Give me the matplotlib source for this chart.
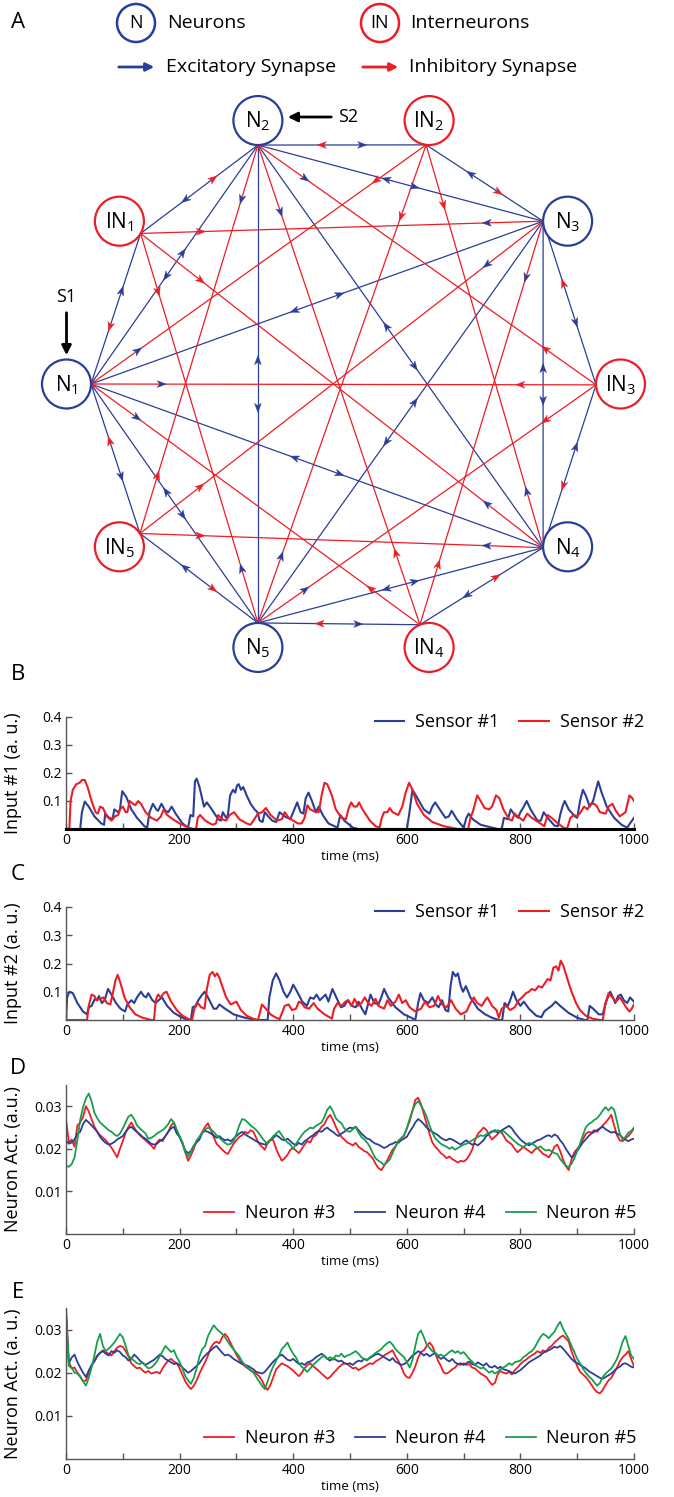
import numpy as np
import matplotlib
matplotlib.use('Agg')
import matplotlib.pyplot as plt
from matplotlib.patches import Circle, Polygon

plt.rcParams['font.family'] = ['Open Sans', 'DejaVu Sans']
plt.rcParams['mathtext.fontset'] = 'custom'
plt.rcParams['mathtext.rm'] = 'Open Sans'
plt.rcParams['mathtext.it'] = 'Open Sans:italic'
plt.rcParams['mathtext.bf'] = 'Open Sans:bold'

BLUE = '#2B3E97'
RED = '#EE1D25'
GREEN = '#16A04B'

# ---------------- data ----------------
node_labels = ['N1', 'IN1', 'N2', 'IN2', 'N3', 'IN3', 'N4', 'IN4', 'N5', 'IN5']

# panel B : Input #1, (time ms, value) vertices
b_sensor1 = [(0,0),(25,0),(28,0.06),(33,0.098),(40,0.08),(50,0.045),(62,0.02),(67,0.015),(69,0.055),(76,0.04),(82,0.035),(85,0.07),(92,0.06),(95,0.07),(99,0.135),(106,0.115),(115,0.07),(125,0.04),(138,0.01),(143,0.005),(147,0.06),(153,0.09),(159,0.07),(162,0.065),(168,0.09),(175,0.065),(180,0.06),(186,0.08),(193,0.055),(205,0.02),(215,0.005),(219,0.05),(224,0.045),(227,0.17),(230,0.18),(235,0.15),(243,0.08),(248,0.095),(255,0.075),(268,0.035),(273,0.03),(276,0.06),(282,0.04),(285,0.05),(289,0.12),(294,0.14),(298,0.13),(301,0.155),(304,0.16),(308,0.14),(312,0.15),(318,0.12),(325,0.09),(332,0.07),(337,0.06),(341,0.03),(346,0.025),(350,0.06),(356,0.045),(363,0.03),(370,0.025),(376,0.06),(385,0.045),(395,0.035),(402,0.07),(407,0.095),(413,0.06),(418,0.055),(422,0.11),(427,0.13),(433,0.1),(440,0.06),(445,0.08),(452,0.05),(462,0.02),(478,0.005),(483,0.05),(490,0.03),(505,0.005),(515,0.0),(600,0.0),(604,0.05),(610,0.14),(616,0.12),(630,0.07),(640,0.055),(645,0.08),(650,0.095),(658,0.07),(668,0.04),(674,0.045),(679,0.065),(688,0.035),(700,0.005),(705,0.04),(709,0.055),(716,0.035),(730,0.015),(760,0.0),(767,0.0),(771,0.04),(778,0.035),(783,0.07),(790,0.05),(796,0.04),(800,0.06),(806,0.08),(811,0.1),(818,0.07),(830,0.03),(836,0.03),(841,0.06),(848,0.04),(860,0.012),(866,0.01),(870,0.05),(874,0.08),(878,0.1),(885,0.07),(896,0.045),(900,0.04),(905,0.1),(910,0.14),(915,0.12),(922,0.08),(928,0.1),(933,0.14),(937,0.17),(943,0.13),(952,0.08),(965,0.04),(978,0.015),(988,0.005),(993,0.02),(1000,0.04)]
b_sensor2 = [(0,0),(6,0),(8,0.1),(12,0.14),(18,0.16),(24,0.165),(28,0.175),(33,0.175),(38,0.15),(45,0.1),(52,0.06),(56,0.055),(60,0.08),(65,0.075),(72,0.045),(80,0.03),(86,0.045),(92,0.05),(95,0.07),(100,0.08),(105,0.06),(108,0.06),(112,0.1),(118,0.09),(122,0.085),(127,0.1),(132,0.09),(140,0.06),(150,0.04),(160,0.03),(167,0.045),(172,0.07),(178,0.05),(188,0.035),(200,0.02),(215,0.005),(225,0.0),(229,0.0),(232,0.04),(236,0.05),(245,0.03),(258,0.015),(264,0.02),(268,0.05),(275,0.035),(282,0.03),(288,0.05),(296,0.06),(305,0.035),(318,0.02),(325,0.015),(333,0.04),(338,0.055),(345,0.06),(352,0.075),(360,0.05),(372,0.03),(380,0.035),(385,0.06),(392,0.04),(400,0.03),(408,0.02),(415,0.02),(420,0.04),(425,0.085),(430,0.07),(440,0.06),(445,0.06),(450,0.12),(455,0.165),(460,0.16),(468,0.12),(475,0.07),(485,0.04),(493,0.035),(497,0.07),(502,0.095),(507,0.08),(512,0.08),(516,0.095),(522,0.07),(535,0.03),(545,0.01),(552,0.005),(556,0.04),(560,0.06),(566,0.06),(570,0.075),(575,0.06),(585,0.05),(592,0.08),(598,0.13),(604,0.165),(610,0.14),(618,0.09),(630,0.05),(645,0.025),(665,0.01),(690,0.0),(708,0.0),(712,0.04),(716,0.06),(720,0.09),(724,0.12),(730,0.1),(737,0.075),(745,0.07),(750,0.08),(757,0.12),(763,0.11),(770,0.07),(780,0.035),(785,0.03),(790,0.055),(795,0.045),(805,0.03),(812,0.055),(820,0.04),(835,0.02),(842,0.01),(848,0.05),(855,0.04),(866,0.02),(876,0.005),(882,0.0),(888,0.04),(894,0.05),(900,0.045),(906,0.06),(912,0.08),(918,0.07),(924,0.09),(930,0.09),(935,0.08),(940,0.06),(950,0.055),(955,0.08),(962,0.09),(968,0.065),(975,0.045),(985,0.06),(992,0.12),(997,0.11),(1000,0.1)]

# panel C : Input #2
c_sensor1 = [(0,0),(2,0.08),(6,0.1),(12,0.095),(20,0.06),(30,0.03),(37,0.02),(40,0.045),(45,0.05),(51,0.075),(55,0.07),(58,0.085),(63,0.06),(68,0.07),(74,0.11),(80,0.09),(88,0.06),(96,0.04),(104,0.03),(108,0.055),(115,0.07),(120,0.06),(125,0.08),(132,0.1),(137,0.085),(141,0.08),(145,0.095),(152,0.07),(158,0.06),(163,0.07),(169,0.08),(178,0.05),(190,0.025),(205,0.008),(215,0.0),(220,0.0),(223,0.045),(228,0.05),(233,0.07),(238,0.085),(244,0.1),(250,0.08),(260,0.04),(265,0.04),(270,0.055),(280,0.04),(295,0.02),(315,0.008),(335,0.0),(355,0.0),(358,0.08),(364,0.14),(370,0.165),(376,0.14),(383,0.1),(389,0.08),(395,0.1),(400,0.125),(407,0.1),(416,0.065),(424,0.05),(430,0.08),(436,0.075),(441,0.09),(447,0.07),(452,0.08),(457,0.09),(462,0.065),(469,0.11),(476,0.08),(484,0.045),(490,0.05),(496,0.07),(503,0.05),(510,0.045),(515,0.065),(521,0.04),(527,0.02),(531,0.05),(536,0.09),(543,0.06),(550,0.055),(555,0.08),(560,0.11),(567,0.08),(580,0.045),(595,0.02),(608,0.008),(615,0.0),(620,0.06),(624,0.095),(630,0.07),(638,0.06),(645,0.08),(651,0.055),(656,0.045),(662,0.07),(668,0.035),(673,0.03),(677,0.12),(681,0.17),(686,0.155),(690,0.165),(695,0.12),(699,0.1),(704,0.12),(712,0.08),(725,0.04),(738,0.02),(750,0.008),(762,0.0),(768,0.0),(772,0.06),(778,0.05),(782,0.07),(787,0.1),(793,0.07),(800,0.05),(806,0.065),(815,0.04),(828,0.015),(837,0.01),(842,0.03),(848,0.04),(855,0.05),(862,0.065),(870,0.05),(885,0.025),(900,0.008),(913,0.0),(918,0.0),(922,0.05),(928,0.04),(938,0.02),(945,0.02),(950,0.06),(958,0.1),(963,0.08),(967,0.06),(972,0.085),(977,0.09),(982,0.07),(988,0.06),(993,0.08),(1000,0.065)]
c_sensor2 = [(0,0),(37,0),(40,0.05),(45,0.09),(50,0.085),(54,0.07),(60,0.075),(66,0.08),(72,0.06),(78,0.055),(83,0.1),(87,0.14),(91,0.16),(96,0.13),(103,0.08),(112,0.045),(122,0.02),(135,0.008),(150,0.0),(155,0.0),(158,0.07),(162,0.09),(167,0.08),(172,0.095),(177,0.1),(185,0.065),(195,0.035),(205,0.015),(215,0.004),(222,0.0),(226,0.04),(232,0.06),(238,0.045),(244,0.04),(248,0.11),(253,0.16),(258,0.17),(262,0.155),(266,0.165),(270,0.15),(275,0.12),(282,0.08),(290,0.055),(295,0.06),(300,0.065),(308,0.035),(318,0.015),(330,0.004),(338,0.0),(345,0.055),(352,0.04),(360,0.02),(368,0.01),(376,0.003),(385,0.05),(392,0.055),(398,0.035),(405,0.04),(410,0.065),(415,0.06),(420,0.045),(428,0.04),(436,0.06),(443,0.04),(455,0.02),(468,0.005),(472,0.04),(478,0.06),(485,0.05),(492,0.065),(497,0.07),(503,0.05),(508,0.075),(514,0.05),(520,0.06),(526,0.08),(532,0.06),(538,0.05),(545,0.075),(550,0.05),(560,0.04),(566,0.07),(572,0.05),(580,0.065),(586,0.09),(592,0.06),(598,0.07),(605,0.045),(615,0.03),(625,0.04),(632,0.065),(640,0.045),(648,0.05),(655,0.085),(662,0.055),(670,0.045),(678,0.07),(686,0.04),(695,0.02),(705,0.03),(712,0.06),(718,0.08),(724,0.06),(732,0.05),(738,0.07),(742,0.08),(750,0.05),(758,0.035),(762,0.008),(767,0.04),(775,0.05),(782,0.035),(790,0.045),(797,0.07),(803,0.08),(810,0.095),(815,0.1),(820,0.11),(826,0.105),(832,0.12),(838,0.115),(843,0.13),(848,0.145),(853,0.14),(858,0.185),(863,0.19),(867,0.175),(871,0.21),(876,0.19),(882,0.15),(890,0.1),(898,0.06),(905,0.035),(915,0.015),(928,0.004),(940,0.0),(945,0.0),(950,0.06),(955,0.095),(962,0.08),(968,0.065),(975,0.08),(980,0.065),(986,0.045),(992,0.03),(996,0.04),(1000,0.055)]

# panels D and E : neuron activity sampled every 5 ms (0..1000), units of 1e-4 a.u.
t_neuron = np.arange(0, 1001, 5)
d_neuron3 = [270,215,222,205,255,262,275,300,288,270,252,240,232,226,220,212,203,192,180,200,
             218,238,252,262,250,240,232,226,220,214,208,200,215,222,218,230,240,255,262,240,
             228,212,192,172,185,200,218,228,240,252,260,245,228,212,205,198,192,188,200,212,
             220,228,232,240,236,244,240,225,212,205,198,215,222,220,200,185,172,178,186,198,
             202,196,190,200,210,218,215,228,232,242,252,258,272,280,268,252,238,228,222,215,
             212,208,214,205,200,195,192,185,178,165,155,150,160,172,185,198,205,218,225,230,
             248,265,290,315,320,305,282,258,235,215,205,198,190,185,178,182,176,172,168,172,
             170,175,185,198,220,235,242,250,245,232,222,228,235,242,232,220,215,210,200,192,
             198,205,200,195,190,198,202,195,188,185,180,190,205,210,195,175,160,150,175,192,
             200,208,222,235,240,238,244,240,248,255,262,270,280,255,232,220,218,225,230,238,
             248]
d_neuron4 = [220,212,215,222,235,240,258,268,262,255,248,240,228,220,214,210,212,216,222,226,
             230,240,248,252,245,240,234,228,224,218,212,210,212,218,222,230,240,248,252,236,
             228,214,196,190,195,208,215,222,238,242,240,236,232,226,230,224,220,222,218,224,
             230,236,240,234,230,226,222,218,214,212,210,214,220,226,232,228,222,220,224,218,
             212,208,214,210,218,222,228,232,238,242,240,246,250,244,240,234,230,236,240,246,
             250,248,252,244,236,230,224,222,216,212,210,206,202,205,210,212,216,214,220,224,
             228,240,250,262,270,265,258,250,244,240,236,232,226,222,220,224,222,218,214,210,
             216,220,214,210,212,208,214,220,230,236,240,244,238,242,246,250,254,248,238,230,
             222,216,212,208,212,216,220,222,226,230,232,228,234,230,220,212,200,190,180,185,
             195,205,215,222,230,236,240,244,248,252,246,242,238,240,236,232,226,222,218,222,
             224]
d_neuron5 = [160,158,164,180,220,268,298,318,330,312,285,272,262,256,250,244,240,234,230,236,
             248,262,276,280,270,255,248,242,236,224,226,230,236,240,244,250,258,270,262,245,
             230,215,192,182,195,205,220,228,238,245,250,246,240,232,226,220,214,210,212,218,
             235,255,270,268,262,255,250,244,236,226,218,212,222,230,236,242,232,222,215,210,
             200,212,222,232,240,245,250,248,254,258,262,275,292,300,288,272,265,260,248,242,
             240,246,252,238,228,222,215,205,190,178,172,168,162,168,175,190,205,218,225,232,
             248,270,290,305,312,302,290,275,255,238,225,218,212,208,205,200,204,198,202,206,
             210,212,216,220,224,228,232,230,234,238,242,240,244,238,242,236,230,224,218,212,
             208,204,210,214,212,208,202,206,200,196,198,194,190,188,176,168,160,158,165,178,
             195,212,232,250,258,262,268,272,280,290,298,290,298,292,265,235,222,228,238,242,
             250]
e_neuron3 = [350,225,210,212,200,192,180,182,198,215,228,240,246,252,248,244,240,250,258,262,
             260,250,238,222,215,210,212,205,200,204,198,200,202,198,210,220,228,232,226,222,
             210,195,180,170,162,170,182,198,212,225,240,258,268,272,268,282,290,282,268,255,
             242,230,222,215,210,205,202,198,192,182,168,160,172,190,208,215,222,218,215,210,
             205,198,192,200,210,218,222,215,210,204,198,192,186,190,198,205,212,218,222,220,
             215,210,212,206,210,214,218,222,220,226,230,234,240,244,248,252,238,228,215,198,
             190,188,200,215,235,248,252,262,270,262,245,228,215,200,198,202,208,212,220,218,
             222,218,220,212,210,204,198,194,190,180,172,176,196,204,200,198,202,196,206,212,
             220,226,230,236,240,244,250,246,252,248,258,262,270,276,282,286,280,272,250,232,
             215,202,196,190,182,172,162,155,152,160,172,182,188,200,212,226,236,242,250,232,
             215]
e_neuron4 = [330,222,235,242,225,212,200,190,205,218,226,238,246,250,244,240,250,246,252,248,
             240,236,228,232,242,236,228,222,218,222,226,230,236,242,238,232,228,224,220,222,
             218,212,206,200,204,210,216,222,232,240,246,252,258,262,254,246,240,242,238,232,
             228,224,220,218,216,212,208,202,200,198,202,210,218,226,232,238,242,236,230,228,
             232,226,220,222,218,224,226,230,236,240,244,238,232,228,234,230,226,228,222,220,
             222,218,224,228,226,232,230,234,238,242,244,240,236,232,228,234,226,222,218,220,
             224,232,240,244,250,246,240,244,238,242,246,238,232,236,230,226,232,224,220,222,
             218,222,226,220,218,224,220,216,222,214,212,216,210,214,208,206,204,200,198,202,
             206,212,218,224,228,232,236,240,246,250,252,256,260,258,262,256,248,240,232,226,
             222,218,214,210,204,200,196,192,188,186,190,194,198,204,210,214,220,222,218,214,
             212]
e_neuron5 = [350,215,212,200,198,190,180,170,188,212,240,272,290,262,250,256,262,270,280,290,
             282,262,240,232,228,222,220,224,216,210,212,218,226,238,250,262,255,248,252,236,
             225,210,192,182,174,188,210,238,255,262,285,298,310,302,296,290,282,272,262,254,
             246,238,226,218,212,206,200,190,180,170,162,180,200,215,228,240,255,262,270,255,
             244,235,222,214,208,202,210,218,224,230,236,240,232,236,230,240,238,244,236,240,
             242,246,250,244,236,232,228,236,240,246,250,255,262,268,272,265,255,248,242,236,
             225,212,230,262,290,298,282,265,258,250,246,240,242,238,242,248,252,246,250,244,
             248,240,232,226,218,214,210,212,206,200,204,198,202,208,212,216,222,218,224,226,
             228,236,240,246,250,258,270,282,290,286,280,288,295,308,318,302,290,278,262,248,
             232,222,210,200,192,186,178,170,176,190,198,204,210,220,232,250,272,285,262,240,
             232]

x_ticks = list(range(0, 1001, 100))

# ---------------- figure ----------------
W, H = 674, 1497
fig = plt.figure(figsize=(W / 100, H / 100), dpi=100)

# network panel drawn in pixel units
ax0 = fig.add_axes([0, 1 - 700 / H, 1, 700 / H])
ax0.set_xlim(0, W)
ax0.set_ylim(700, 0)
ax0.axis('off')

cx, cy, R, rn = 343.5, 384, 277, 24.5
ang = np.radians(180 - 36 * np.arange(10))
xs = cx + R * np.cos(ang)
ys = cy - R * np.sin(ang)
att_deg = [0, 30, 90, 97, 180, 178, 178, 248, 270, -33]
att = [np.array([xs[i] + rn * np.cos(np.radians(a)), ys[i] + rn * np.sin(np.radians(a))])
       for i, a in enumerate(att_deg)]


def head(p, q, frac, color, L=9.0, w=3.4, notch=2.4):
    d = q - p
    u = d / np.hypot(*d)
    n = np.array([-u[1], u[0]])
    c = p + frac * d
    back = c - u * L / 2
    pts = [c + u * L / 2, back + n * w, c - u * (L / 2 - notch), back - n * w]
    ax0.add_patch(Polygon(pts, closed=True, fc=color, ec=color, lw=0.3, zorder=4))


def seg(p, q, color):
    ax0.plot([p[0], q[0]], [p[1], q[1]], color=color, lw=0.9, zorder=2,
             solid_capstyle='butt')


neu = [0, 2, 4, 6, 8]
inn = [1, 3, 5, 7, 9]
# neuron <-> neuron
for a in range(5):
    for b in range(a + 1, 5):
        p, q = att[neu[a]], att[neu[b]]
        seg(p, q, BLUE)
        head(p, q, 0.55, BLUE)
        head(q, p, 0.55, BLUE)
# neuron <-> interneuron
for i in inn:
    for j in neu:
        p, q = att[j], att[i]
        if j in (i - 1, (i + 1) % 10):
            seg(p, q, BLUE)
            head(p, q, 0.62, BLUE)
            head(q, p, 0.62, RED)
        else:
            seg(p, q, RED)
            head(p, q, 0.14, BLUE)
            head(q, p, 0.15, RED)

for i, name in enumerate(node_labels):
    col = RED if name.startswith('IN') else BLUE
    ax0.add_patch(Circle((xs[i], ys[i]), rn, fc='white', ec=col, lw=1.6, zorder=5))
    lab = r'$\mathrm{%s}_{%s}$' % (name[:-1], name[-1])
    ax0.text(xs[i], ys[i] + 1, lab, ha='center', va='center', fontsize=15, zorder=6)

# stimulus arrows
ax0.annotate('', xy=(xs[0], 358), xytext=(xs[0], 310),
             arrowprops=dict(arrowstyle='-|>', lw=2, color='k', mutation_scale=14))
ax0.text(xs[0], 297, 'S1', ha='center', va='center', fontsize=13)
ax0.annotate('', xy=(285, 117), xytext=(334, 117),
             arrowprops=dict(arrowstyle='-|>', lw=2, color='k', mutation_scale=14))
ax0.text(338, 117, 'S2', ha='left', va='center', fontsize=13)

# legend at top
ax0.add_patch(Circle((136, 23), 19, fc='white', ec=BLUE, lw=1.8))
ax0.text(136, 23, 'N', ha='center', va='center', fontsize=13)
ax0.text(167, 23, 'Neurons', ha='left', va='center', fontsize=14)
ax0.add_patch(Circle((380, 23), 19, fc='white', ec=RED, lw=1.8))
ax0.text(380, 23, 'IN', ha='center', va='center', fontsize=13)
ax0.text(410, 23, 'Interneurons', ha='left', va='center', fontsize=14)
ax0.annotate('', xy=(157, 67), xytext=(116, 67),
             arrowprops=dict(arrowstyle='-|>', lw=2, color=BLUE, mutation_scale=12))
ax0.text(166, 67, 'Excitatory Synapse', ha='left', va='center', fontsize=14)
ax0.annotate('', xy=(401, 67), xytext=(360, 67),
             arrowprops=dict(arrowstyle='-|>', lw=2, color=RED, mutation_scale=12))
ax0.text(409, 67, 'Inhibitory Synapse', ha='left', va='center', fontsize=14)


def panel(top, bottom, ylim, yticks, ylabel, series, colors, names, leg_y, leg_x, lw=1.5):
    ax = fig.add_axes([66 / W, 1 - bottom / H, (634 - 66) / W, (bottom - top) / H])
    lines = []
    for (tt, vv), c, nm in zip(series, colors, names):
        ln, = ax.plot(tt, vv, color=c, lw=lw, label=nm)
        lines.append(ln)
    ax.set_xlim(0, 1000)
    ax.set_ylim(*ylim)
    ax.set_xticks(x_ticks)
    ax.set_xticklabels([str(t) if t % 200 == 0 else '' for t in x_ticks])
    ax.set_yticks(yticks)
    ax.set_yticklabels([('%g' % v) for v in yticks])
    for sp in ['top', 'right']:
        ax.spines[sp].set_visible(False)
    for sp in ['left', 'bottom']:
        ax.spines[sp].set_color('#555555')
        ax.spines[sp].set_linewidth(1.0)
    ax.tick_params(direction='in', length=4, width=1, color='#555555',
                   labelsize=10, pad=3)
    ax.set_xlabel('time (ms)', fontsize=9.5, labelpad=1)
    ax.set_ylabel(ylabel, fontsize=13)
    ax.yaxis.set_label_coords(-0.077, 0.5)
    ax.legend(handles=lines, loc='center right', bbox_to_anchor=(leg_x, leg_y),
              ncol=len(lines), frameon=False, fontsize=13, handlelength=1.65,
              handletextpad=0.6, columnspacing=1.1, borderpad=0, borderaxespad=0)
    return ax


def pairs(s):
    a = np.array(s)
    return a[:, 0], a[:, 1]


def sampled(v):
    # leading zero at t=0 gives the vertical onset seen at the left edge
    return np.r_[0, t_neuron], np.r_[0, np.array(v) * 1e-4]


axB = panel(717, 829, (0, 0.4), [0.1, 0.2, 0.3, 0.4], 'Input #1 (a. u.)',
            [pairs(b_sensor1), pairs(b_sensor2)], [BLUE, RED],
            ['Sensor #1', 'Sensor #2'], 0.955, 1.018)
axB.spines['bottom'].set_color('k')
axB.spines['bottom'].set_linewidth(2.2)

axC = panel(907, 1020, (0, 0.4), [0.1, 0.2, 0.3, 0.4], 'Input #2 (a. u.)',
            [pairs(c_sensor1), pairs(c_sensor2)], [BLUE, RED],
            ['Sensor #1', 'Sensor #2'], 0.955, 1.018)

axD = panel(1085, 1234, (0, 0.035), [0.01, 0.02, 0.03], 'Neuron Act. (a.u.)',
            [sampled(d_neuron3), sampled(d_neuron4), sampled(d_neuron5)], [RED, BLUE, GREEN],
            ['Neuron #3', 'Neuron #4', 'Neuron #5'], 0.14, 1.005, lw=1.3)

axE = panel(1308, 1459, (0, 0.035), [0.01, 0.02, 0.03], 'Neuron Act. (a. u.)',
            [sampled(e_neuron3), sampled(e_neuron4), sampled(e_neuron5)], [RED, BLUE, GREEN],
            ['Neuron #3', 'Neuron #4', 'Neuron #5'], 0.14, 1.005, lw=1.3)

for letter, y in [('A', 22), ('B', 675), ('C', 875), ('D', 1068), ('E', 1293)]:
    fig.text(18 / W, 1 - y / H, letter, ha='center', va='center', fontsize=16)

fig.savefig('out.png', dpi=100)
